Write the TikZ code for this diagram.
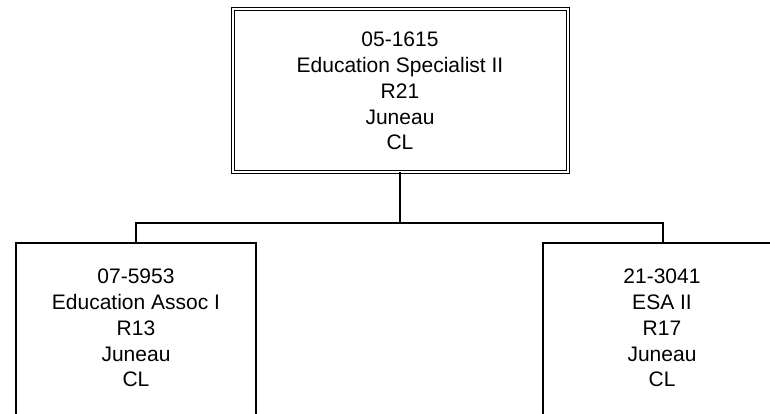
\documentclass[tikz,border=0pt]{standalone}
\usepackage{fontspec}
\setmainfont{Liberation Sans}
\begin{document}
\begin{tikzpicture}[x=1pt,y=-1pt,
  box/.style={draw,line width=1.2pt,rectangle,inner sep=0pt},
  topbox/.style={draw,rectangle,inner sep=0pt,line width=1pt,double,double distance=2pt},
  txt/.style={align=center,inner sep=0pt,font=\fontsize{21}{25.8}\selectfont},
  conn/.style={line width=1.3pt}]
\useasboundingbox (0,0) rectangle (770,413);
\clip (0,0) rectangle (770,413);
\node[topbox,minimum width=335pt,minimum height=163pt] (top) at (400,90) {};
\node[txt] (toptxt) at (400,91) {05-1615\\Education Specialist II\\R21\\Juneau\\CL};
\node[box,minimum width=240pt,minimum height=200pt] (left) at (136,343) {};
\node[txt] (lefttxt) at (136,328) {07-5953\\Education Assoc I\\R13\\Juneau\\CL};
\node[box,minimum width=240pt,minimum height=200pt] (right) at (663,343) {};
\node[txt] (righttxt) at (662,328) {21-3041\\ESA II\\R17\\Juneau\\CL};
\coordinate (bus) at (400,223);
\draw[conn] (top.south) -- (bus);
\draw[conn] (bus) -| (left.north);
\draw[conn] (bus) -| (right.north);
\end{tikzpicture}
\end{document}
